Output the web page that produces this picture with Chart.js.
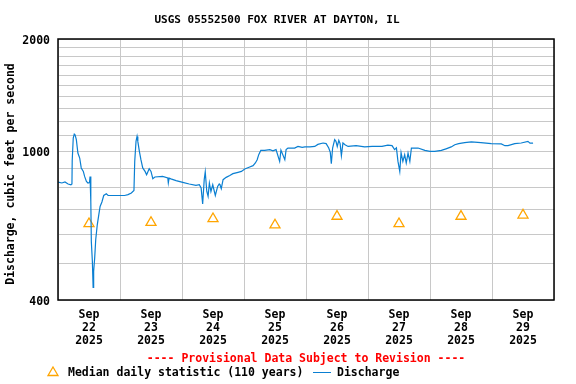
<!DOCTYPE html>
<html>
<head>
<meta charset="utf-8">
<script src="https://cdn.jsdelivr.net/npm/chart.js@4"></script>
<style>
    html, body { margin: 0; padding: 0; background: #fff; }
    canvas { display: block; }
</style>
</head>
<body>
<canvas id="flowChart" width="576" height="384"></canvas>
<script>
/* USGS 05552500 Fox River at Dayton, IL - discharge hydrograph
   x = hours since Sep 22 2025 00:00, y = cfs on a log axis */

const chartTitle = 'USGS 05552500 FOX RIVER AT DAYTON, IL';
const yAxisTitle = 'Discharge, cubic feet per second';
const provisionalNote = '---- Provisional Data Subject to Revision ----';
const medianLegend = 'Median daily statistic (110 years)';
const dischargeLegend = 'Discharge';

const dayLabels = ['22', '23', '24', '25', '26', '27', '28', '29'];
const monthLabel = 'Sep';
const yearLabel = '2025';

const yGridValues = [400, 500, 600, 700, 800, 900, 1000, 1100, 1200, 1300, 1400,
                     1500, 1600, 1700, 1800, 1900, 2000];
const yTickLabels = [400, 1000, 2000];

// Median daily statistic, plotted at noon of each day
const medianCfs = [640, 645, 660, 635, 670, 640, 670, 675];

// Discharge readings (hour offset, cfs)
const dischargeHours = [
    0, 1.5, 2.7, 3.9, 5.0, 5.4, 5.5, 5.9, 6.3, 6.6, 7.1, 7.7, 8.4, 9.0, 9.8, 10.3,
    11.0, 11.6, 12.2, 12.4, 12.7, 12.9, 13.3, 13.6, 13.8, 14.2, 14.6, 15.2, 15.8, 16.3,
    17.0, 17.7, 18.7, 19.4, 22.1, 25.8, 27.1, 28.4, 29.4, 29.7, 30.2, 30.6, 30.9, 31.5,
    32.1, 32.8, 33.7, 34.3, 35.3, 36.0, 36.7, 37.5, 40.5, 42.5, 42.7, 43.0, 43.7, 45.7,
    48.3, 50.8, 53.4, 54.7, 55.4, 56.0, 56.6, 57.0, 57.6, 58.1, 58.6, 59.2, 59.9, 60.9,
    61.8, 62.4, 62.7, 63.2, 63.9, 65.1, 66.5, 67.7, 69.7, 71.0, 72.3, 74.2, 75.5, 76.4,
    77.1, 77.7, 78.5, 80.0, 82.0, 83.2, 84.4, 85.8, 86.3, 87.8, 88.3, 89.0, 91.6, 92.9,
    94.5, 95.6, 97.5, 99.4, 100.6, 102.6, 103.8, 104.8, 105.4, 105.8, 106.3, 107.1,
    107.6, 108.1, 108.7, 109.2, 109.7, 110.3, 111.1, 112.3, 115.4, 118.7, 121.6, 125.4,
    127.7, 129.3, 130.3, 131.0, 131.6, 132.3, 132.8, 133.5, 134.2, 134.8, 135.5, 136.2,
    136.8, 139.4, 142.0, 144.0, 145.8, 148.4, 150.2, 152.2, 153.6, 155.1, 157.4, 160.0,
    163.7, 167.7, 171.6, 173.0, 174.2, 176.8, 179.3, 181.9, 182.7, 183.9
];
const dischargeCfs = [
    828, 823, 828, 818, 814, 818, 944, 1086, 1113, 1108, 1075, 990, 960, 903, 884, 857,
    831, 823, 825, 857, 735, 574, 508, 432, 477, 518, 580, 636, 677, 712,
    732, 762, 770, 762, 762, 762, 766, 774, 786, 940, 1064, 1097, 1064, 1000,
    950, 903, 884, 866, 899, 884, 845, 854, 857, 849, 823, 848, 844, 835,
    826, 818, 811, 814, 798, 723, 840, 881, 781, 758, 823, 781, 814, 762,
    806, 818, 814, 795, 840, 852, 862, 872, 879, 884, 897, 908, 916, 931,
    950, 980, 1006, 1006, 1011, 1004, 1011, 940, 1008, 950, 1011, 1021, 1021, 1031,
    1025, 1028, 1028, 1031, 1044, 1053, 1049, 1021, 994, 927, 1021, 1075,
    1064, 1031, 1070, 1049, 974, 1053, 1042, 1031, 1036, 1028, 1031, 1031,
    1040, 1036, 1011, 1022, 940, 884, 992, 940, 980, 931, 990, 940,
    1021, 1021, 1006, 1000, 1000, 1006, 1016, 1028, 1042, 1049, 1056, 1060,
    1056, 1049, 1047, 1036, 1036, 1049, 1053, 1064, 1052, 1053
];

const FONT = '"DejaVu Sans Mono", "Liberation Mono", monospace';
const LINE_BLUE = '#0a7fd2';
const MEDIAN_ORANGE = '#ffa500';
const GRID_GREY = '#c8c8c8';

// ─── Text, frame and legend drawn on top of the chart ──────────────────────
const decorPlugin = {
    id: 'usgsDecor',
    afterDraw(chart) {
        const { ctx, chartArea: a } = chart;
        ctx.save();

        // plot frame
        ctx.strokeStyle = '#000';
        ctx.lineWidth = 1.5;
        ctx.strokeRect(a.left, a.top, a.right - a.left, a.bottom - a.top);

        ctx.fillStyle = '#000';
        ctx.textBaseline = 'middle';

        // title
        ctx.font = `bold 11px ${FONT}`;
        ctx.textAlign = 'center';
        ctx.fillText(chartTitle, 277, 20);

        // y axis title
        ctx.font = `bold 11.5px ${FONT}`;
        ctx.save();
        ctx.translate(11, 174);
        ctx.rotate(-Math.PI / 2);
        ctx.fillText(yAxisTitle, 0, 0);
        ctx.restore();

        // provisional note
        ctx.fillStyle = '#ff0000';
        ctx.fillText(provisionalNote, 306, 359);

        // legend
        const ly = 372;
        ctx.strokeStyle = MEDIAN_ORANGE;
        ctx.lineWidth = 1.3;
        ctx.beginPath();
        ctx.moveTo(53, ly - 5);
        ctx.lineTo(58, ly + 3.5);
        ctx.lineTo(48, ly + 3.5);
        ctx.closePath();
        ctx.stroke();

        ctx.fillStyle = '#000';
        ctx.textAlign = 'left';
        ctx.fillText(medianLegend, 68, ly + 1);

        ctx.strokeStyle = LINE_BLUE;
        ctx.lineWidth = 1;
        ctx.beginPath();
        ctx.moveTo(313, ly + 0.5);
        ctx.lineTo(331, ly + 0.5);
        ctx.stroke();
        ctx.fillText(dischargeLegend, 337, ly + 1);

        ctx.restore();
    }
};

// ─── Chart ─────────────────────────────────────────────────────────────────
window.addEventListener('DOMContentLoaded', () => {
    const ctx = document.getElementById('flowChart').getContext('2d');

    const dischargePoints = dischargeHours.map((h, i) => ({ x: h, y: dischargeCfs[i] }));
    const medianPoints = medianCfs.map((v, i) => ({ x: 12 + i * 24, y: v }));

    const midnights = dayLabels.map((d, i) => i * 24).concat([dayLabels.length * 24]);
    const noons = dayLabels.map((d, i) => 12 + i * 24);

    new Chart(ctx, {
        type: 'line',
        data: {
            datasets: [
                {
                    label: dischargeLegend,
                    data: dischargePoints,
                    borderColor: LINE_BLUE,
                    borderWidth: 1.2,
                    pointRadius: 0,
                    tension: 0,
                    fill: false
                },
                {
                    label: medianLegend,
                    data: medianPoints,
                    showLine: false,
                    pointStyle: 'triangle',
                    pointRadius: 5.8,
                    pointBorderWidth: 1.3,
                    pointBorderColor: MEDIAN_ORANGE,
                    pointBackgroundColor: 'rgba(0,0,0,0)'
                }
            ]
        },
        options: {
            responsive: false,
            animation: false,
            devicePixelRatio: 1,
            layout: { padding: { top: 39, right: 22, left: 0, bottom: 0 } },
            plugins: {
                legend: { display: false },
                tooltip: { enabled: false },
                title: { display: false }
            },
            scales: {
                x: {
                    type: 'linear',
                    min: 0,
                    max: dayLabels.length * 24,
                    afterBuildTicks: (scale) => {
                        scale.ticks = midnights.concat(noons).sort((a, b) => a - b).map(v => ({ value: v }));
                    },
                    afterFit: (scale) => { scale.height = 84; },
                    border: { display: false },
                    grid: {
                        drawTicks: false,
                        lineWidth: 1,
                        color: (c) => (c.tick && c.tick.value % 24 === 0) ? GRID_GREY : 'rgba(0,0,0,0)'
                    },
                    ticks: {
                        autoSkip: false,
                        maxRotation: 0,
                        padding: 9,
                        color: '#000',
                        font: { family: FONT, size: 11.5, weight: 'bold', lineHeight: 1.13 },
                        callback: (value) => value % 24 === 12
                            ? [monthLabel, dayLabels[(value - 12) / 24], yearLabel]
                            : ''
                    }
                },
                y: {
                    type: 'logarithmic',
                    min: 400,
                    max: 2000,
                    afterBuildTicks: (scale) => {
                        scale.ticks = yGridValues.map(v => ({ value: v }));
                    },
                    afterFit: (scale) => { scale.width = 58; },
                    border: { display: false },
                    grid: { drawTicks: false, color: GRID_GREY, lineWidth: 1 },
                    ticks: {
                        autoSkip: false,
                        padding: 8,
                        labelOffset: 2,
                        color: '#000',
                        font: { family: FONT, size: 11.5, weight: 'bold' },
                        callback: (value) => yTickLabels.includes(value) ? String(value) : ''
                    }
                }
            }
        },
        plugins: [decorPlugin]
    });
});
</script>
</body>
</html>
